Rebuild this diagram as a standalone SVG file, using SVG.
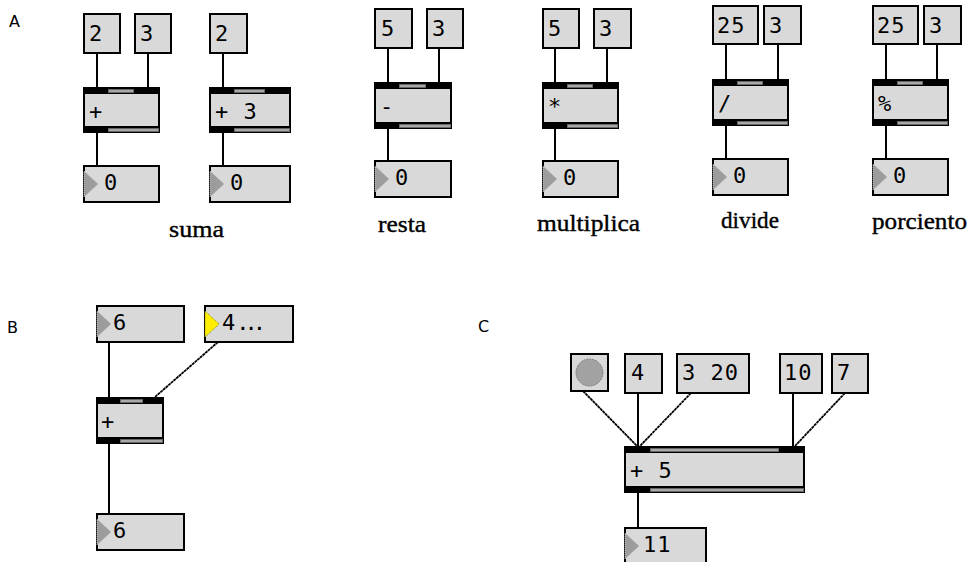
<svg xmlns="http://www.w3.org/2000/svg" width="968" height="562" viewBox="0 0 968 562">
<style>
.bg{fill:#ffffff}
.box{fill:#d9d9d9;stroke:#000;stroke-width:2}
.band{fill:#000}
.gbar{fill:#a8a8a8;stroke:#666;stroke-width:1}
.tri{fill:#9c9c9c;stroke:#bdbdbd;stroke-width:1;stroke-dasharray:1 1}
.ytri{fill:#ffee00;stroke:#8a8a00;stroke-width:1;stroke-dasharray:1 1}
.t{font-family:"DejaVu Sans Mono","Liberation Mono",monospace;font-size:22px;fill:#000;letter-spacing:1px}
.lab{font-family:"Liberation Serif","DejaVu Serif",serif;font-size:24px;fill:#000;stroke:#000;stroke-width:0.4}
.sec{font-family:"DejaVu Sans","Liberation Sans",sans-serif;font-size:16px;fill:#000}
.w{stroke:#000;stroke-width:2;fill:none}
.wd{stroke:#000;stroke-width:1.8;fill:none;stroke-dasharray:3 0.5}
.bang{fill:#a2a2a2;stroke:#7a7a7a;stroke-width:1;stroke-dasharray:2 1}
</style>
<rect class="bg" x="0" y="0" width="968" height="562"/>

<text class="sec" x="9" y="27">A</text>
<text class="sec" x="7" y="333">B</text>
<text class="sec" x="478" y="332">C</text>

<g id="connectors">
<line class="w" x1="97" y1="53" x2="97" y2="87"/>
<line class="w" x1="148" y1="53" x2="148" y2="87"/>
<line class="w" x1="97" y1="132" x2="97" y2="165"/>
<line class="w" x1="223" y1="53" x2="223" y2="87"/>
<line class="w" x1="223" y1="132" x2="223" y2="165"/>
<line class="w" x1="388" y1="48" x2="388" y2="82"/>
<line class="w" x1="439" y1="48" x2="439" y2="82"/>
<line class="w" x1="388" y1="128" x2="388" y2="160"/>
<line class="w" x1="555" y1="48" x2="555" y2="82"/>
<line class="w" x1="607" y1="48" x2="607" y2="82"/>
<line class="w" x1="555" y1="128" x2="555" y2="160"/>
<line class="w" x1="726" y1="44" x2="726" y2="79"/>
<line class="w" x1="778" y1="44" x2="778" y2="79"/>
<line class="w" x1="726" y1="125" x2="726" y2="158"/>
<line class="w" x1="886" y1="44" x2="886" y2="79"/>
<line class="w" x1="937" y1="44" x2="937" y2="79"/>
<line class="w" x1="886" y1="125" x2="886" y2="158"/>
<line class="w" x1="109" y1="342" x2="109" y2="397"/>
<line class="wd" x1="218" y1="342" x2="155" y2="397"/>
<line class="w" x1="109" y1="443" x2="109" y2="513"/>
<line class="wd" x1="583" y1="391" x2="637" y2="446"/>
<line class="w" x1="638" y1="393" x2="638" y2="446"/>
<line class="wd" x1="691" y1="393" x2="640" y2="446"/>
<line class="w" x1="793" y1="393" x2="793" y2="446"/>
<line class="wd" x1="845" y1="393" x2="795" y2="446"/>
<line class="w" x1="638" y1="492" x2="638" y2="527"/>
</g>

<!-- A: suma -->
<g id="a1-m2"><rect class="box" x="84" y="14" width="36" height="39"/><text class="t" x="89" y="41">2</text></g>
<g id="a1-m3"><rect class="box" x="135" y="14" width="36" height="39"/><text class="t" x="140" y="41">3</text></g>
<g id="a1-obj"><rect class="box" x="84" y="88" width="75" height="44"/><rect class="band" x="83" y="87" width="77" height="7"/><rect class="gbar" x="108.5" y="89.5" width="25" height="3"/><rect class="band" x="83" y="126" width="77" height="7"/><rect class="gbar" x="108.5" y="128.5" width="50" height="3"/><text class="t" x="89" y="119">+</text></g>
<g id="a1-num"><rect class="box" x="84" y="166" width="75" height="36"/><polygon class="tri" points="84,171 98,184 84,197"/><text class="t" x="104" y="190">0</text></g>

<g id="a2-m2"><rect class="box" x="210" y="14" width="37" height="39"/><text class="t" x="215" y="41">2</text></g>
<g id="a2-obj"><rect class="box" x="210" y="88" width="80" height="44"/><rect class="band" x="209" y="87" width="82" height="7"/><rect class="gbar" x="234.5" y="89.5" width="30" height="3"/><rect class="band" x="209" y="126" width="82" height="7"/><rect class="gbar" x="234.5" y="128.5" width="55" height="3"/><text class="t" x="215" y="119">+ 3</text></g>
<g id="a2-num"><rect class="box" x="210" y="166" width="80" height="36"/><polygon class="tri" points="210,171 224,184 210,197"/><text class="t" x="230" y="190">0</text></g>
<text class="lab" x="169" y="237" textLength="55" lengthAdjust="spacingAndGlyphs">suma</text>

<!-- A: resta -->
<g id="a3-m5"><rect class="box" x="375" y="9" width="37" height="39"/><text class="t" x="381" y="36">5</text></g>
<g id="a3-m3"><rect class="box" x="427" y="9" width="36" height="39"/><text class="t" x="432" y="36">3</text></g>
<g id="a3-obj"><rect class="box" x="375" y="83" width="76" height="45"/><rect class="band" x="374" y="82" width="78" height="7"/><rect class="gbar" x="399.5" y="84.5" width="26" height="3"/><rect class="band" x="374" y="122" width="78" height="7"/><rect class="gbar" x="399.5" y="124.5" width="51" height="3"/><text class="t" x="380" y="114">-</text></g>
<g id="a3-num"><rect class="box" x="375" y="161" width="76" height="36"/><polygon class="tri" points="375,166 389,179 375,192"/><text class="t" x="395" y="185">0</text></g>
<text class="lab" x="378" y="232" textLength="48" lengthAdjust="spacingAndGlyphs">resta</text>

<!-- A: multiplica -->
<g id="a4-m5"><rect class="box" x="543" y="9" width="36" height="39"/><text class="t" x="548" y="36">5</text></g>
<g id="a4-m3"><rect class="box" x="594" y="9" width="37" height="39"/><text class="t" x="599" y="36">3</text></g>
<g id="a4-obj"><rect class="box" x="543" y="83" width="75" height="45"/><rect class="band" x="542" y="82" width="77" height="7"/><rect class="gbar" x="567.5" y="84.5" width="25" height="3"/><rect class="band" x="542" y="122" width="77" height="7"/><rect class="gbar" x="567.5" y="124.5" width="50" height="3"/><text class="t" x="548" y="114">*</text></g>
<g id="a4-num"><rect class="box" x="543" y="161" width="75" height="36"/><polygon class="tri" points="543,166 557,179 543,192"/><text class="t" x="563" y="185">0</text></g>
<text class="lab" x="537" y="231" textLength="103" lengthAdjust="spacingAndGlyphs">multiplica</text>

<!-- A: divide -->
<g id="a5-m25"><rect class="box" x="713" y="6" width="45" height="38"/><text class="t" x="717" y="33">25</text></g>
<g id="a5-m3"><rect class="box" x="764" y="6" width="37" height="38"/><text class="t" x="769" y="33">3</text></g>
<g id="a5-obj"><rect class="box" x="713" y="80" width="75" height="45"/><rect class="band" x="712" y="79" width="77" height="7"/><rect class="gbar" x="737.5" y="81.5" width="25" height="3"/><rect class="band" x="712" y="119" width="77" height="7"/><rect class="gbar" x="737.5" y="121.5" width="50" height="3"/><text class="t" x="718" y="111">/</text></g>
<g id="a5-num"><rect class="box" x="713" y="159" width="75" height="36"/><polygon class="tri" points="713,164 727,177 713,190"/><text class="t" x="733" y="183">0</text></g>
<text class="lab" x="721" y="228" textLength="58" lengthAdjust="spacingAndGlyphs">divide</text>

<!-- A: porciento -->
<g id="a6-m25"><rect class="box" x="873" y="6" width="45" height="38"/><text class="t" x="877" y="33">25</text></g>
<g id="a6-m3"><rect class="box" x="924" y="6" width="37" height="38"/><text class="t" x="929" y="33">3</text></g>
<g id="a6-obj"><rect class="box" x="873" y="80" width="75" height="45"/><rect class="band" x="872" y="79" width="77" height="7"/><rect class="gbar" x="897.5" y="81.5" width="25" height="3"/><rect class="band" x="872" y="119" width="77" height="7"/><rect class="gbar" x="897.5" y="121.5" width="50" height="3"/><text class="t" x="878" y="111">%</text></g>
<g id="a6-num"><rect class="box" x="873" y="159" width="75" height="36"/><polygon class="tri" points="873,164 887,177 873,190"/><text class="t" x="893" y="183">0</text></g>
<text class="lab" x="872" y="229" textLength="95" lengthAdjust="spacingAndGlyphs">porciento</text>

<!-- B -->
<g id="b-num6"><rect class="box" x="97" y="306" width="87" height="36"/><polygon class="tri" points="97,311 111,324 97,337"/><text class="t" x="113" y="330">6</text></g>
<g id="b-num4"><rect class="box" x="205" y="306" width="88" height="36"/><polygon class="ytri" points="205,311 219,324 205,337"/><text class="t" x="222" y="330">4<tspan letter-spacing="-5px">...</tspan></text></g>
<g id="b-obj"><rect class="box" x="97" y="398" width="66" height="45"/><rect class="band" x="96" y="397" width="68" height="7"/><rect class="gbar" x="120.5" y="399.5" width="22" height="3"/><rect class="band" x="96" y="437" width="68" height="7"/><rect class="gbar" x="120.5" y="439.5" width="42" height="3"/><text class="t" x="101" y="429">+</text></g>
<g id="b-out"><rect class="box" x="97" y="514" width="87" height="36"/><polygon class="tri" points="97,519 111,532 97,545"/><text class="t" x="113" y="538">6</text></g>

<!-- C -->
<g id="c-bang"><rect class="box" x="571" y="354" width="37" height="37"/><circle class="bang" cx="589.5" cy="372.5" r="13.5"/></g>
<g id="c-m4"><rect class="box" x="625" y="354" width="37" height="39"/><text class="t" x="631" y="380">4</text></g>
<g id="c-m320"><rect class="box" x="677" y="354" width="72" height="39"/><text class="t" x="682" y="380">3 20</text></g>
<g id="c-m10"><rect class="box" x="780" y="354" width="42" height="39"/><text class="t" x="784" y="380">10</text></g>
<g id="c-m7"><rect class="box" x="832" y="354" width="36" height="39"/><text class="t" x="837" y="380">7</text></g>
<g id="c-obj"><rect class="box" x="625" y="447" width="179" height="45"/><rect class="band" x="624" y="446" width="181" height="7"/><rect class="gbar" x="650.5" y="448.5" width="128" height="3"/><rect class="band" x="624" y="486" width="181" height="7"/><rect class="gbar" x="650.5" y="488.5" width="153" height="3"/><text class="t" x="630" y="478">+ 5</text></g>
<g id="c-num11"><rect class="box" x="625" y="528" width="81" height="38"/><polygon class="tri" points="625,533 639,546 625,559"/><text class="t" x="643" y="552">11</text></g>
</svg>
